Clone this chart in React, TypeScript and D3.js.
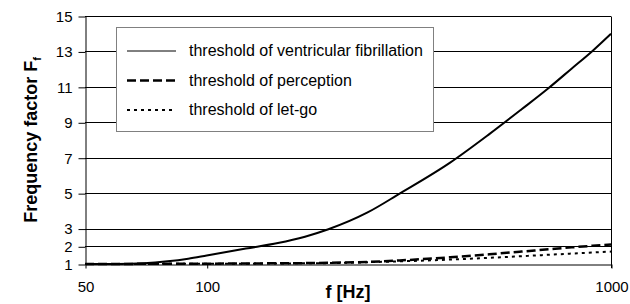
import React, { useRef, useEffect } from "react";
import * as d3 from "d3";

// frequency [Hz]
const freqs = [50, 60, 70, 80, 90, 100, 125, 150, 175, 200, 250, 300, 400, 500, 600, 700, 800, 900, 1000];
// frequency factor Ff
const fibrillation = [1, 1.0, 1.04, 1.15, 1.3, 1.48, 1.87, 2.18, 2.54, 2.96, 3.91, 4.97, 6.72, 8.33, 9.72, 10.92, 12.04, 13.03, 14];
const perception = [1, 1, 1.01, 1.01, 1.02, 1.02, 1.03, 1.04, 1.05, 1.07, 1.12, 1.2, 1.38, 1.55, 1.7, 1.83, 1.94, 2.03, 2.1];
const letGo = [1, 1, 1, 1.01, 1.01, 1.02, 1.02, 1.03, 1.04, 1.05, 1.1, 1.15, 1.25, 1.35, 1.44, 1.52, 1.59, 1.65, 1.7];

const yTicks = [1, 2, 3, 5, 7, 9, 11, 13, 15];
const xTicks = [50, 100, 1000];

const seriesNames = [
  "threshold of ventricular fibrillation",
  "threshold of perception",
  "threshold of let-go",
];

const App = () => {
  const ref = useRef<SVGSVGElement>(null);

  useEffect(() => {
    const svg = d3.select(ref.current);
    svg.selectAll("*").remove();

    const left = 85;
    const right = 611;
    const top = 16;
    const bottom = 264;

    const x = d3.scaleLog().domain([50, 1000]).range([left, right]);
    const y = d3.scaleLinear().domain([1, 15]).range([bottom, top]);

    // horizontal gridlines
    svg
      .append("g")
      .selectAll("line")
      .data(yTicks.filter((d) => d !== 1))
      .enter()
      .append("line")
      .attr("x1", left)
      .attr("x2", right)
      .attr("y1", (d) => Math.round(y(d)) + 0.5)
      .attr("y2", (d) => Math.round(y(d)) + 0.5)
      .attr("stroke", "#000")
      .attr("stroke-width", 1);

    // right border
    svg
      .append("line")
      .attr("x1", right + 0.5)
      .attr("x2", right + 0.5)
      .attr("y1", top + 0.5)
      .attr("y2", bottom + 4)
      .attr("stroke", "#000");

    const yAxis = d3.axisLeft(y).tickValues(yTicks).tickSize(7).tickPadding(6).tickSizeOuter(0);
    svg
      .append("g")
      .attr("transform", `translate(${left + 0.5},0.5)`)
      .call(yAxis)
      .call((g) => g.selectAll("text").attr("font-size", 15).attr("font-family", "Liberation Sans, Arial").attr("fill", "#000"));

    const xAxis = d3.axisBottom(x).tickValues(xTicks).tickFormat(d3.format("d")).tickSize(4).tickPadding(13).tickSizeOuter(0);
    svg
      .append("g")
      .attr("transform", `translate(0.5,${bottom + 0.5})`)
      .call(xAxis)
      .call((g) => g.selectAll("text").attr("font-size", 15).attr("font-family", "Liberation Sans, Arial").attr("fill", "#000"));

    svg.selectAll(".domain").attr("stroke", "#000");
    svg.selectAll(".tick line").attr("stroke", "#000");

    const line = d3
      .line<number>()
      .x((d, i) => x(freqs[i]))
      .y((d) => y(d))
      .curve(d3.curveMonotoneX);

    const styles = [
      { data: fibrillation, width: 2, dash: null },
      { data: perception, width: 2.5, dash: "9,4" },
      { data: letGo, width: 2, dash: "3,4" },
    ];

    styles.forEach((s) => {
      svg
        .append("path")
        .attr("d", line(s.data))
        .attr("fill", "none")
        .attr("stroke", "#000")
        .attr("stroke-width", s.width)
        .attr("stroke-dasharray", s.dash);
    });

    // legend
    const lg = svg.append("g");
    lg.append("rect")
      .attr("x", 116.5)
      .attr("y", 27.5)
      .attr("width", 317)
      .attr("height", 104)
      .attr("fill", "#fff")
      .attr("stroke", "#808080");

    styles.forEach((s, i) => {
      const ly = 51 + i * 29.5;
      lg.append("line")
        .attr("x1", 127)
        .attr("x2", 176)
        .attr("y1", ly)
        .attr("y2", ly)
        .attr("stroke", "#000")
        .attr("stroke-width", i === 0 ? 1 : s.width)
        .attr("stroke-dasharray", s.dash);
      lg.append("text")
        .attr("x", 189)
        .attr("y", ly + 5)
        .attr("font-size", 16)
        .attr("font-family", "Liberation Sans, Arial")
        .text(seriesNames[i]);
    });

    // axis titles
    svg
      .append("text")
      .attr("x", (left + right) / 2)
      .attr("y", 298)
      .attr("text-anchor", "middle")
      .attr("font-size", 18)
      .attr("font-weight", "bold")
      .attr("font-family", "Liberation Sans, Arial")
      .text("f [Hz]");

    const yt = svg
      .append("text")
      .attr("transform", `translate(37,${(top + bottom) / 2}) rotate(-90)`)
      .attr("text-anchor", "middle")
      .attr("font-size", 18)
      .attr("font-weight", "bold")
      .attr("font-family", "Liberation Sans, Arial");
    yt.append("tspan").text("Frequency factor  F");
    yt.append("tspan").attr("font-size", 11).attr("dy", 4).text("f");
  }, []);

  return (
    <svg
      ref={ref}
      width={630}
      height={304}
      style={{ position: "absolute", left: 0, top: 0, background: "#fff" }}
    ></svg>
  );
};

export default App;
